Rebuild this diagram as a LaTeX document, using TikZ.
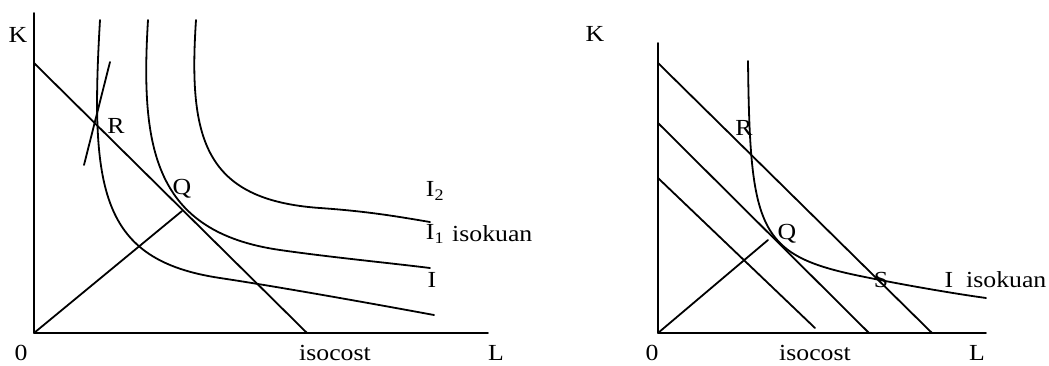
\documentclass[tikz,border=0pt]{standalone}
\usepackage{fontspec}
\setmainfont{Liberation Serif}
\newcommand{\wtxt}[1]{\scalebox{1.12}[1]{#1}}
\tikzset{
  ln/.style={line width=1.8pt, line cap=round, line join=round},
  lbl/.style={font=\fontsize{23}{27}\selectfont, inner sep=0pt},
}
\begin{document}
\begin{tikzpicture}[x=1pt,y=-1pt]
\useasboundingbox (0,0) rectangle (1049,365);
% ---------- left panel ----------
\coordinate (O1) at (34,333);
\coordinate (Ktop1) at (34,13);
\coordinate (Lend1) at (488,333);
\coordinate (C1a) at (34,63);
\coordinate (C1b) at (307,333);
\coordinate (Ta) at (110,62);
\coordinate (Tb) at (84,165);
\coordinate (Qp1) at (182,211);
\draw[ln] (Ktop1) -- (O1) -- (Lend1);
\draw[ln] (C1a) -- (C1b);
\draw[ln] (Ta) -- (Tb);
\draw[ln] (O1) -- (Qp1);
% isoquant I
\draw[ln] (100,20) .. controls (90,190) and (100,260) .. (220,278)
          .. controls (280,287) and (380,305) .. (434,315);
% isoquant I1
\draw[ln] (148,20) .. controls (140,150) and (155,232) .. (280,250)
          .. controls (330,257.2) and (390,263) .. (430,268);
% isoquant I2
\draw[ln] (196,20) .. controls (188,140) and (205,200) .. (320,208)
          .. controls (370,211.5) and (400,217) .. (430,222);
\node[lbl] (K1) at (18,35) {\wtxt{K}};
\node[lbl] (Z1) at (21,353) {\wtxt{0}};
\node[lbl] (iso1) at (335,353) {\wtxt{isocost}};
\node[lbl] (L1) at (496,353) {\wtxt{L}};
\node[lbl] (R1) at (116,126) {\wtxt{R}};
\node[lbl] (Q1) at (182,189) {\wtxt{Q}};
\node[lbl] (I2) at (435,191) {\wtxt{I\textsubscript{2}}};
\node[lbl] (I1) at (435,234) {\wtxt{I\textsubscript{1}}};
\node[lbl, anchor=west] (isok1) at (452,234) {\wtxt{isokuan}};
\node[lbl] (I0) at (432,280) {\wtxt{I}};
% ---------- right panel ----------
\coordinate (O2) at (658,333);
\coordinate (Ktop2) at (658,43);
\coordinate (Lend2) at (986,333);
\coordinate (Ca) at (658,63);
\coordinate (Cb) at (932,333);
\coordinate (Da) at (658,123);
\coordinate (Db) at (869,333);
\coordinate (Ea) at (658,178);
\coordinate (Eb) at (815,328);
\coordinate (Qp2) at (768,240);
\draw[ln] (Ktop2) -- (O2) -- (Lend2);
\draw[ln] (Ca) -- (Cb);
\draw[ln] (Da) -- (Db);
\draw[ln] (Ea) -- (Eb);
\draw[ln] (O2) -- (Qp2);
\draw[ln] (748,61) .. controls (750,230) and (758,255) .. (860,276)
          .. controls (900,284.2) and (950,293) .. (986,298);
\node[lbl] (K2) at (595,34) {\wtxt{K}};
\node[lbl] (Z2) at (652,353) {\wtxt{0}};
\node[lbl] (iso2) at (815,353) {\wtxt{isocost}};
\node[lbl] (L2) at (977,353) {\wtxt{L}};
\node[lbl] (R2) at (744,128) {\wtxt{R}};
\node[lbl] (Q2) at (787,234) {\wtxt{Q}};
\node[lbl] (S2) at (881,280) {\wtxt{S}};
\node[lbl] (Ir) at (949,280) {\wtxt{I}};
\node[lbl, anchor=west] (isok2) at (966,280) {\wtxt{isokuan}};
\end{tikzpicture}
\end{document}
